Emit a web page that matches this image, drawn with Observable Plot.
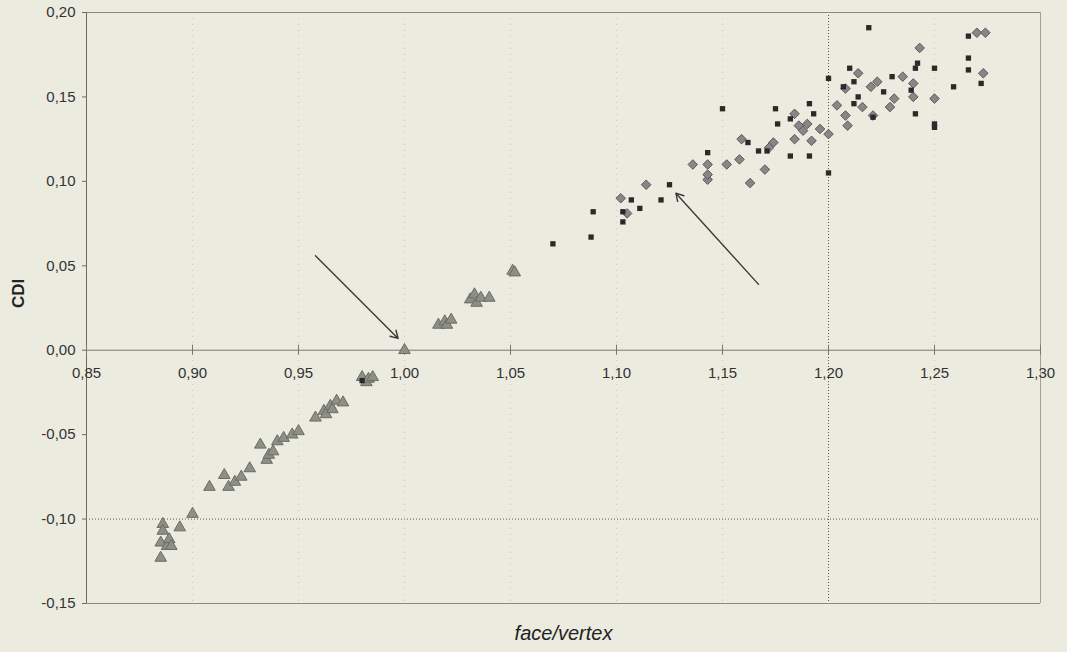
<!DOCTYPE html>
<html>
<head>
<meta charset="utf-8">
<script src="https://cdn.jsdelivr.net/npm/d3@7"></script>
<script src="https://cdn.jsdelivr.net/npm/@observablehq/plot@0.6"></script>
<style>
  html, body { margin: 0; padding: 0; background: #ecebe0; }
  #chart { width: 1067px; height: 652px; }
  svg { font-family: "Liberation Sans", Arial, sans-serif; }
</style>
</head>
<body>
<div id="chart"></div>
<script>
// ---- data ----
const triangles = [
  [0.885,-0.123],[0.886,-0.103],[0.886,-0.107],[0.885,-0.114],[0.888,-0.116],[0.889,-0.112],
  [0.890,-0.116],[0.894,-0.105],[0.900,-0.097],[0.908,-0.081],[0.915,-0.074],[0.917,-0.081],
  [0.920,-0.078],[0.923,-0.075],[0.927,-0.070],[0.932,-0.056],[0.935,-0.065],[0.936,-0.062],
  [0.938,-0.060],[0.940,-0.054],[0.943,-0.052],[0.947,-0.050],[0.950,-0.048],[0.958,-0.040],
  [0.962,-0.036],[0.963,-0.038],[0.965,-0.033],[0.966,-0.035],[0.968,-0.030],[0.971,-0.031],
  [0.980,-0.016],[0.982,-0.019],[0.983,-0.017],[0.985,-0.016],[1.000,0.000],[1.016,0.015],
  [1.019,0.017],[1.020,0.015],[1.022,0.018],[1.031,0.030],[1.033,0.033],[1.034,0.028],
  [1.036,0.031],[1.040,0.031],[1.051,0.047],[1.052,0.046]
];
const diamonds = [
  [1.102,0.090],[1.105,0.081],[1.114,0.098],[1.136,0.110],[1.143,0.110],[1.143,0.101],
  [1.143,0.104],[1.152,0.110],[1.158,0.113],[1.159,0.125],[1.163,0.099],[1.170,0.107],
  [1.174,0.123],[1.172,0.120],[1.184,0.125],[1.184,0.140],[1.186,0.133],[1.188,0.130],
  [1.190,0.134],[1.192,0.124],[1.196,0.131],[1.200,0.128],[1.204,0.145],[1.208,0.139],
  [1.209,0.133],[1.208,0.155],[1.214,0.164],[1.216,0.144],[1.220,0.156],[1.223,0.159],
  [1.221,0.139],[1.229,0.144],[1.231,0.149],[1.235,0.162],[1.240,0.158],[1.240,0.150],
  [1.243,0.179],[1.250,0.149],[1.270,0.188],[1.274,0.188],[1.273,0.164]
];
const squares = [
  [0.980,-0.018],[1.070,0.063],[1.088,0.067],[1.089,0.082],[1.103,0.076],[1.103,0.082],
  [1.107,0.089],[1.111,0.084],[1.121,0.089],[1.125,0.098],[1.143,0.117],[1.150,0.143],
  [1.162,0.123],[1.167,0.118],[1.171,0.118],[1.175,0.143],[1.176,0.134],[1.182,0.137],
  [1.182,0.115],[1.191,0.146],[1.191,0.115],[1.193,0.140],[1.200,0.105],[1.200,0.161],
  [1.207,0.156],[1.210,0.167],[1.212,0.159],[1.212,0.146],[1.214,0.150],[1.219,0.191],
  [1.221,0.138],[1.226,0.153],[1.230,0.162],[1.239,0.154],[1.241,0.167],[1.241,0.140],
  [1.242,0.170],[1.250,0.167],[1.250,0.134],[1.250,0.132],[1.259,0.156],[1.266,0.186],
  [1.266,0.173],[1.266,0.166],[1.272,0.158]
];
const arrows = [
  {x1: 0.958, y1: 0.056, x2: 0.997, y2: 0.007},
  {x1: 1.167, y1: 0.039, x2: 1.128, y2: 0.093}
];
const xTicks = [0.85, 0.90, 0.95, 1.00, 1.05, 1.10, 1.15, 1.20, 1.25, 1.30];
const yTicks = [-0.15, -0.10, -0.05, 0.00, 0.05, 0.10, 0.15, 0.20];
const faintGridX = [0.90, 0.95, 1.00, 1.05, 1.10, 1.15, 1.25];
const xLabel = "face/vertex";
const yLabel = "CDI";

const fmt = d => d.toFixed(2).replace(".", ",");

const chart = Plot.plot({
  width: 1067,
  height: 652,
  marginLeft: 86,
  marginRight: 27,
  marginTop: 12,
  marginBottom: 49,
  style: {background: "#ecebe0", fontFamily: "'Liberation Sans', Arial, sans-serif"},
  x: {domain: [0.85, 1.30], axis: null},
  y: {domain: [-0.15, 0.20], axis: null},
  marks: [
    // faint vertical gridlines
    Plot.ruleX(faintGridX, {stroke: "#9a9a90", strokeOpacity: 0.4, strokeDasharray: "1,5"}),
    // emphasised gridlines
    Plot.ruleX([1.20], {stroke: "#555", strokeDasharray: "1,2", strokeWidth: 1}),
    Plot.ruleY([-0.10], {stroke: "#555", strokeDasharray: "1,2", strokeWidth: 1}),
    // frame
    Plot.ruleY([0.20, -0.15], {stroke: "#8a8a84", strokeWidth: 1}),
    Plot.ruleX([1.30], {stroke: "#a0a09a", strokeWidth: 1}),
    Plot.ruleX([0.85], {stroke: "#6a6a66", strokeWidth: 1}),
    // y axis
    Plot.axisY(yTicks, {tickFormat: fmt, tickSize: 4, tickPadding: 7, fontSize: 15, color: "#333", stroke: "#6a6a66", label: null}),
    // x axis at y = 0
    Plot.ruleY([0], {stroke: "#777", strokeWidth: 1}),
    Plot.ruleX(xTicks, {y1: -0.003, y2: 0.003, stroke: "#777"}),
    Plot.text(xTicks, {x: d => d, y: 0, dy: 23, text: fmt, fontSize: 15, fill: "#333"}),
    // data
    Plot.dot(triangles, {x: d => d[0], y: d => d[1], symbol: "triangle", r: 4.3, fill: "#8e8f86", stroke: "#6b6c64", strokeWidth: 1}),
    Plot.dot(diamonds, {x: d => d[0], y: d => d[1], symbol: "diamond2", r: 4.3, fill: "#8b8588", stroke: "#5c585a", strokeWidth: 1}),
    Plot.dot(squares, {x: d => d[0], y: d => d[1], symbol: "square", r: 3, fill: "#2a2a2a", stroke: "none"}),
    // arrows
    Plot.arrow(arrows, {x1: "x1", y1: "y1", x2: "x2", y2: "y2", stroke: "#3a3a3a", strokeWidth: 1.4, headLength: 9}),
    // axis titles
    Plot.text([yLabel], {frameAnchor: "left", dx: -68, rotate: -90, fontSize: 17, fontWeight: "bold", fill: "#222"}),
    Plot.text([xLabel], {frameAnchor: "bottom", dy: 36, fontSize: 20, fontStyle: "italic", fill: "#222", style: "letter-spacing: 1.5px"})
  ]
});
document.getElementById("chart").appendChild(chart);
</script>
</body>
</html>
